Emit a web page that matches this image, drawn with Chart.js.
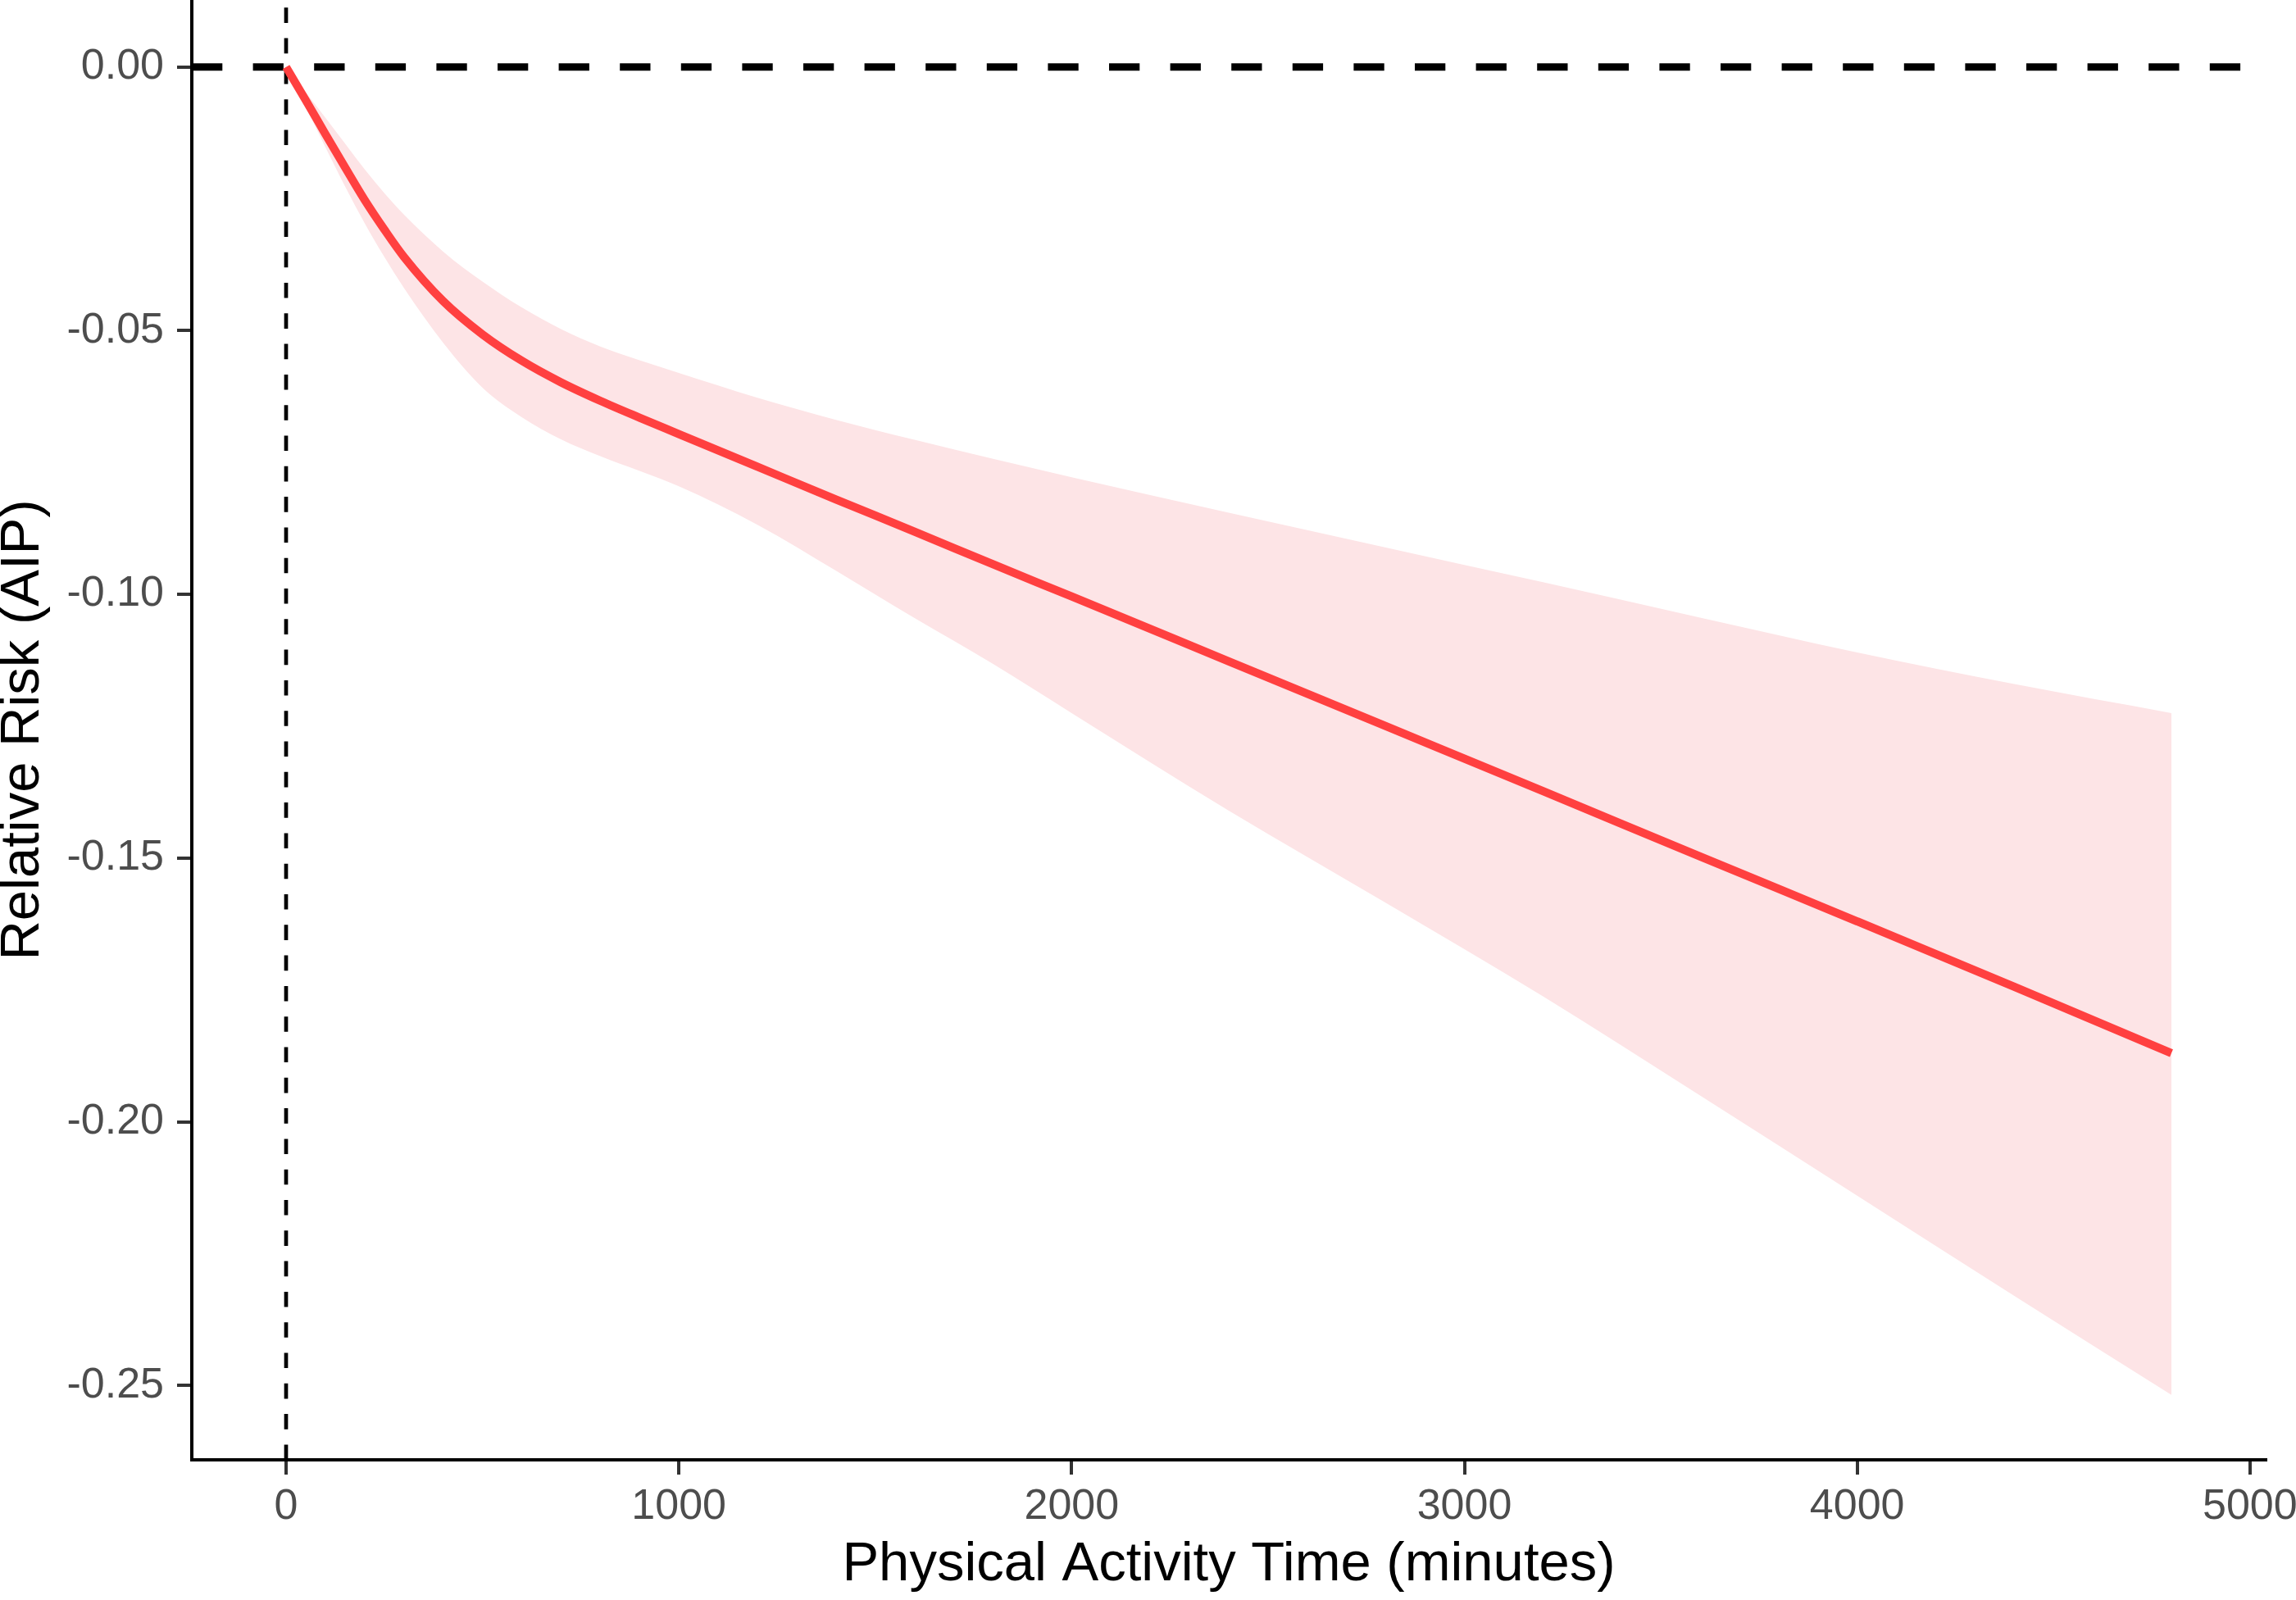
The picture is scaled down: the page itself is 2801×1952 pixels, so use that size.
<!DOCTYPE html>
<html>
<head>
<meta charset="utf-8">
<script src="https://cdn.jsdelivr.net/npm/chart.js@4.4.1/dist/chart.umd.min.js"></script>
<style>
  html, body { margin: 0; padding: 0; background: #ffffff; }
  #wrap { width: 2801px; height: 1952px; position: relative; }
  canvas { display: block; }
</style>
</head>
<body>
<div id="wrap"><canvas id="c" width="2801" height="1952"></canvas></div>
<script>
// ---- data ----
const xMinutes = [0, 50, 100, 150, 200, 250, 300, 400, 500, 600, 700, 800, 900, 1000,
                  1200, 1400, 1600, 1800, 2000, 2400, 2800, 3200, 3600, 4000, 4400, 4800];
const riskFit = [0, -0.0063, -0.0127, -0.0190, -0.0252, -0.0308, -0.0360, -0.0444, -0.0507,
                 -0.0557, -0.0598, -0.0633, -0.0665, -0.0696, -0.0758, -0.0820, -0.0881,
                 -0.0943, -0.1004, -0.1127, -0.1250, -0.1373, -0.1497, -0.1620, -0.1744, -0.1870];
const riskUpper = [0, -0.0048, -0.0096, -0.0145, -0.0194, -0.0239, -0.0280, -0.0350, -0.0407,
                   -0.0456, -0.0497, -0.0530, -0.0556, -0.0580, -0.0627, -0.0669, -0.0707,
                   -0.0743, -0.0778, -0.0845, -0.0911, -0.0977, -0.1044, -0.1110, -0.1170, -0.1225];
const riskLower = [0, -0.0076, -0.0152, -0.0226, -0.0296, -0.0360, -0.0419, -0.0523, -0.0608,
                   -0.0664, -0.0706, -0.0738, -0.0766, -0.0795, -0.0868, -0.0955, -0.1045,
                   -0.1132, -0.1225, -0.1410, -0.1585, -0.1762, -0.1950, -0.2140, -0.2330, -0.2518];
const xTickValues = [0, 1000, 2000, 3000, 4000, 5000];
const yTickValues = [0, -0.05, -0.10, -0.15, -0.20, -0.25];
const refLineY = 0;   // horizontal reference line
const refLineX = 0;   // vertical reference line
const xTitle = 'Physical Activity Time (minutes)';
const yTitle = 'Relative Risk (AIP)';

// ---- styling ----
const FONT = "'Liberation Sans', Arial, 'DejaVu Sans', sans-serif";
const toPts = (ys) => xMinutes.map((x, i) => ({ x: x, y: ys[i] }));

const refLines = {
  id: 'refLines',
  beforeDatasetsDraw(chart) {
    const { ctx, chartArea, scales } = chart;
    ctx.save();
    ctx.beginPath();
    ctx.rect(chartArea.left, chartArea.top, chartArea.right - chartArea.left, chartArea.bottom - chartArea.top);
    ctx.clip();
    ctx.strokeStyle = '#000000';
    ctx.lineCap = 'butt';
    // horizontal dashed line
    const py = scales.y.getPixelForValue(refLineY);
    ctx.lineWidth = 9;
    ctx.setLineDash([37.3, 37.3]);
    ctx.beginPath();
    ctx.moveTo(chartArea.left, py);
    ctx.lineTo(chartArea.right, py);
    ctx.stroke();
    // vertical dashed line
    const px = scales.x.getPixelForValue(refLineX);
    ctx.lineWidth = 4.7;
    ctx.setLineDash([18.6, 18.7]);
    ctx.beginPath();
    ctx.moveTo(px, chartArea.bottom);
    ctx.lineTo(px, chartArea.top);
    ctx.stroke();
    ctx.restore();
  }
};

new Chart(document.getElementById('c'), {
  type: 'line',
  data: {
    datasets: [
      {
        data: toPts(riskUpper),
        borderWidth: 0,
        borderColor: 'rgba(0,0,0,0)',
        backgroundColor: 'rgb(253,228,230)',
        fill: '+1',
        pointRadius: 0,
        cubicInterpolationMode: 'monotone',
        order: 3
      },
      {
        data: toPts(riskLower),
        borderWidth: 0,
        borderColor: 'rgba(0,0,0,0)',
        fill: false,
        pointRadius: 0,
        cubicInterpolationMode: 'monotone',
        order: 2
      },
      {
        data: toPts(riskFit),
        borderWidth: 10,
        borderColor: '#FF4040',
        fill: false,
        pointRadius: 0,
        cubicInterpolationMode: 'monotone',
        borderCapStyle: 'butt',
        order: 1
      }
    ]
  },
  options: {
    responsive: false,
    devicePixelRatio: 1,
    animation: false,
    layout: { padding: { left: 0, right: 37, top: 0, bottom: 0 } },
    plugins: { legend: { display: false }, tooltip: { enabled: false } },
    scales: {
      x: {
        type: 'linear',
        min: -240,
        max: 5040,
        afterBuildTicks: (s) => { s.ticks = xTickValues.map(v => ({ value: v })); },
        afterFit: (s) => { s.height = 171; s.paddingLeft = 0; s.paddingRight = 0; },
        border: { display: true, color: '#000000', width: 4 },
        grid: { display: true, drawOnChartArea: false, drawTicks: true, tickLength: 18,
                tickColor: '#333333', tickWidth: 4, color: '#333333', lineWidth: 4 },
        ticks: {
          autoSkip: false, maxRotation: 0, padding: 8, color: '#4D4D4D',
          font: { family: FONT, size: 52, lineHeight: 1.2 },
          callback: (v) => String(v)
        },
        title: {
          display: true, text: xTitle, color: '#000000',
          font: { family: FONT, size: 67, lineHeight: 1.2 },
          padding: { top: 0, bottom: 2 }
        }
      },
      y: {
        type: 'linear',
        min: -0.2641,
        max: 0.0127,
        afterBuildTicks: (s) => { s.ticks = yTickValues.map(v => ({ value: v })); },
        afterFit: (s) => { s.width = 234; s.paddingTop = 0; s.paddingBottom = 0; },
        border: { display: true, color: '#000000', width: 4 },
        grid: { display: true, drawOnChartArea: false, drawTicks: true, tickLength: 18,
                tickColor: '#333333', tickWidth: 4, color: '#333333', lineWidth: 4 },
        ticks: {
          autoSkip: false, padding: 16, color: '#4D4D4D',
          font: { family: FONT, size: 52, lineHeight: 1.2 },
          callback: (v) => Number(v).toFixed(2)
        },
        title: {
          display: true, text: yTitle, color: '#000000',
          font: { family: FONT, size: 67, lineHeight: 0.84 },
          padding: { top: 0, bottom: 0 }
        }
      }
    }
  },
  plugins: [refLines]
});
</script>
</body>
</html>
